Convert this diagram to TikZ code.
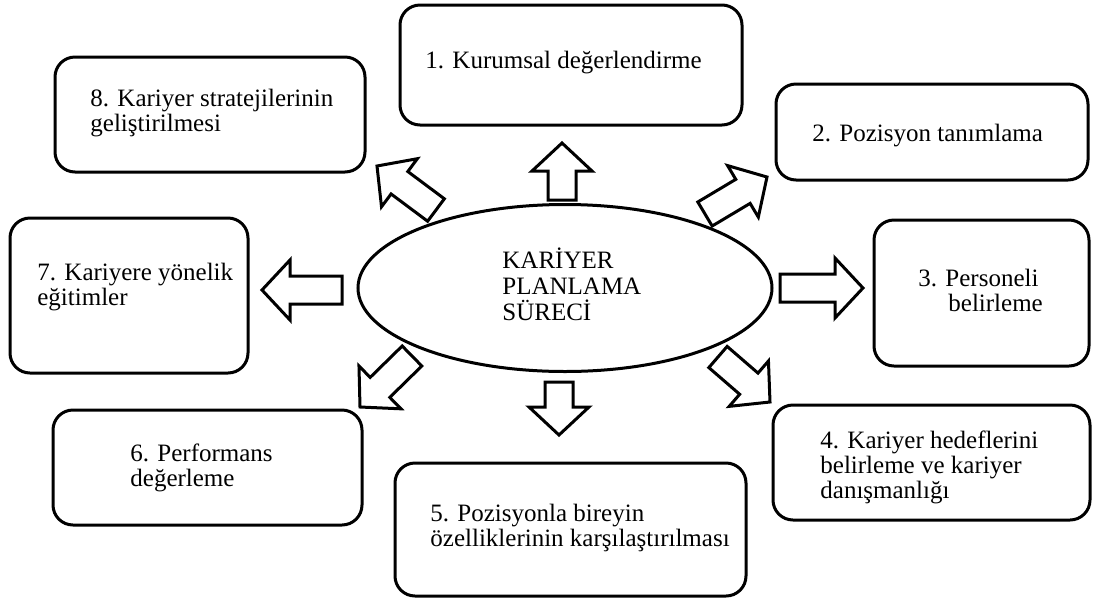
\documentclass[tikz,border=0pt]{standalone}
\usepackage{fontspec}
\setmainfont{Liberation Serif}
\usetikzlibrary{calc,shapes.geometric}
\newcommand{\bx}[5]{\node[box,minimum width={(#4-#2)*0.5pt},minimum height={(#5-#3)*0.5pt}] (#1) at ({(#2+#4)/2},{(#3+#5)/2}) {};}
\newcommand{\blockarrow}[2]{%
  \coordinate (#1h) at ($(#2)!14pt!(#1)$);
  \draw[arr] ($(#1)!7pt!90:(#2)$) -- ($(#1h)!7pt!90:(#2)$) -- ($(#1h)!15pt!90:(#2)$) -- (#2)
    -- ($(#1h)!15pt!-90:(#2)$) -- ($(#1h)!7pt!-90:(#2)$) -- ($(#1)!7pt!-90:(#2)$) -- cycle;}
\begin{document}
\begin{tikzpicture}[x=0.5pt,y=-0.5pt,
  box/.style={draw,line width=1.5pt,rounded corners=10pt,inner sep=0pt},
  lbl/.style={anchor=base west,align=left,inner sep=0pt,font=\fontsize{12.5}{12.5}\selectfont},
  arr/.style={draw,line width=1.5pt,line join=miter,fill=white}]
\useasboundingbox (0,0) rectangle (1094,601);
% boxes
\bx{b1}{400}{5}{742}{125}
\bx{b2}{776}{84}{1088}{180}
\bx{b3}{874}{220}{1089}{366}
\bx{b4}{773}{405}{1090}{520}
\bx{b5}{395}{463}{746}{596}
\bx{b6}{53}{410}{362}{525}
\bx{b7}{10}{218}{248}{373}
\bx{b8}{55}{57}{365}{172}
% ellipse
\node[draw,line width=1.5pt,ellipse,minimum width=414*0.5pt,minimum height=167*0.5pt,inner sep=0pt] (c) at (565,288) {};
% labels (base anchor = baseline of last line)
\node[lbl] (t1) at (425,68) {1. Kurumsal değerlendirme};
\node[lbl] (t2) at (812,141) {2. Pozisyon tanımlama};
\node[lbl] (t3) at (918,311) {3. Personeli\\\hspace*{15pt}belirleme};
\node[lbl] (t4) at (820,498) {4. Kariyer hedeflerini\\belirleme ve kariyer\\danışmanlığı};
\node[lbl] (t5) at (430,546) {5. Pozisyonla bireyin\\özelliklerinin karşılaştırılması};
\node[lbl] (t6) at (130,486) {6. Performans\\değerleme};
\node[lbl] (t7) at (37,305) {7. Kariyere yönelik\\eğitimler};
\node[lbl] (t8) at (90,131) {8. Kariyer stratejilerinin\\geliştirilmesi};
\node[lbl,font=\fontsize{12.5}{13}\selectfont] (tc) at (502,320) {KARİYER\\PLANLAMA\\SÜRECİ};
% arrows
\coordinate (aU) at (562,200);  \coordinate (pU) at (562,143);
\coordinate (aD) at (559,382);  \coordinate (pD) at (559,435);
\coordinate (aR) at (780,288);  \coordinate (pR) at (863,288);
\coordinate (aL) at (342,290);  \coordinate (pL) at (262,290);
\coordinate (aUL) at (436,210); \coordinate (pUL) at (377,166);
\coordinate (aUR) at (705,214); \coordinate (pUR) at (767,177);
\coordinate (aDL) at (412,356); \coordinate (pDL) at (360,407);
\coordinate (aDR) at (718,357); \coordinate (pDR) at (770,402);
\blockarrow{aU}{pU}
\blockarrow{aD}{pD}
\blockarrow{aR}{pR}
\blockarrow{aL}{pL}
\blockarrow{aUL}{pUL}
\blockarrow{aUR}{pUR}
\blockarrow{aDL}{pDL}
\blockarrow{aDR}{pDR}
\end{tikzpicture}
\end{document}
